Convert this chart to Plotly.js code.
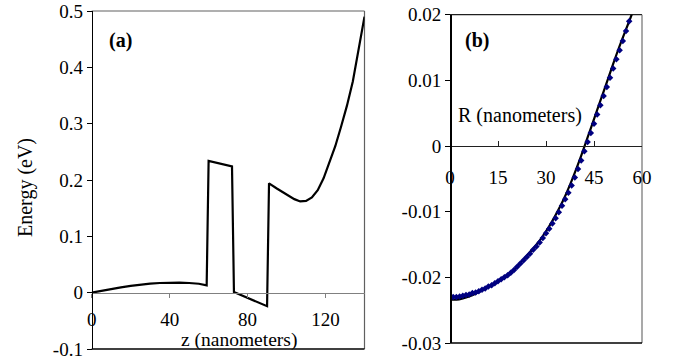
<!DOCTYPE html>
<html><head><meta charset="utf-8">
<script src="https://cdn.plot.ly/plotly-3.0.1.min.js"></script>
<style>html,body{margin:0;padding:0;background:#fff}#chart{width:675px;height:363px}</style>
</head><body><div id="chart"></div>
<script>
// Panel (a): potential energy profile along z
const zNm = [0, 5, 10, 15, 20, 25, 30, 35, 40, 45, 50, 55, 59, 60, 72, 73, 90, 91, 95, 100, 104, 107, 110, 113, 116, 119, 122, 125, 128, 131, 134, 137, 140];
const energyEv = [0, 0.0035, 0.0065, 0.0095, 0.012, 0.0145, 0.016, 0.0172, 0.018, 0.018, 0.0172, 0.0158, 0.013, 0.234, 0.224, 0.001, -0.024, 0.194, 0.185, 0.174, 0.166, 0.162, 0.163, 0.169, 0.182, 0.203, 0.230, 0.260, 0.295, 0.332, 0.375, 0.430, 0.490];

// Panel (b): solid curve and dotted (marker) curve vs R
const rSolidNm = [0, 2, 4, 6, 8, 10, 12, 14, 16, 18, 20, 22, 24, 26, 28, 30, 32, 34, 36, 38, 40, 42, 44, 46, 48, 50, 52, 54, 56, 58];
const rSolidEv = [-0.0234, -0.0234, -0.0232, -0.0229, -0.0225, -0.0220, -0.0215, -0.0209, -0.0203, -0.0196, -0.0188, -0.0178, -0.0167, -0.0156, -0.0144, -0.0130, -0.0114, -0.0096, -0.0076, -0.0053, -0.0028, -0.0001, 0.0027, 0.0055, 0.0083, 0.0111, 0.0139, 0.0165, 0.0190, 0.0216];
const rMarkNm = [0, 1, 2, 3, 4, 5, 6, 7, 8, 9, 10, 11, 12, 13, 14, 15, 16, 17, 18, 19, 20, 21, 22, 23, 24, 25, 26, 27, 28, 29, 30, 31, 32, 33, 34, 35, 36, 37, 38, 39, 40, 41, 42, 43, 44, 45, 46, 47, 48, 49, 50, 51, 52, 53, 54, 55, 56];
const rMarkEv = [-0.0230, -0.0230, -0.0230, -0.0229, -0.0228, -0.0227, -0.0226, -0.0224, -0.0223, -0.0221, -0.0219, -0.0217, -0.0214, -0.0212, -0.0209, -0.0206, -0.0203, -0.0200, -0.0197, -0.0193, -0.0189, -0.0184, -0.0179, -0.0174, -0.0169, -0.0164, -0.0158, -0.0153, -0.0147, -0.0140, -0.0133, -0.0126, -0.0118, -0.0110, -0.0101, -0.0091, -0.0081, -0.0071, -0.0060, -0.0048, -0.0035, -0.0022, -0.0008, 0.0006, 0.0020, 0.0034, 0.0048, 0.0062, 0.0076, 0.0090, 0.0104, 0.0118, 0.0132, 0.0146, 0.0160, 0.0175, 0.0190];

// Tick labels
const aXTickVals = [0, 40, 80, 120];
const aXTickText = ['0', '40', '80', '120'];
const aYTickVals = [-0.1, 0, 0.1, 0.2, 0.3, 0.4, 0.5];
const aYTickText = ['-0.1', '0', '0.1', '0.2', '0.3', '0.4', '0.5'];
const bXTickVals = [0, 15, 30, 45, 60];
const bXTickText = ['0', '15', '30', '45', '60'];
const bYTickVals = [-0.03, -0.02, -0.01, 0, 0.01, 0.02];
const bYTickText = ['-0.03', '-0.02', '-0.01', '0', '0.01', '0.02'];

const W = 675, H = 363;
const aXDom = [91.7 / W, 364.5 / W];
const aYDom = [(H - 349) / H, (H - 11) / H];
const bXDom = [450 / W, 642 / W];
const bYDom = [(H - 343) / H, (H - 14.7) / H];
const aYRange = [-0.1, 0.5];
const bYRange = [-0.03, 0.02];
function zeroPos(dom, rng) { return dom[0] + (0 - rng[0]) / (rng[1] - rng[0]) * (dom[1] - dom[0]); }

const FONT = 'Liberation Serif';
const FS = 19;

const traces = [
  { x: zNm, y: energyEv, type: 'scatter', mode: 'lines', xaxis: 'x', yaxis: 'y',
    line: { color: '#000', width: 2.2 }, hoverinfo: 'skip' },
  { x: rSolidNm, y: rSolidEv, type: 'scatter', mode: 'lines', xaxis: 'x2', yaxis: 'y2',
    line: { color: '#000', width: 2.2, shape: 'spline', smoothing: 0.6 }, hoverinfo: 'skip' },
  { x: rMarkNm, y: rMarkEv, type: 'scatter', mode: 'markers', xaxis: 'x2', yaxis: 'y2',
    marker: { symbol: 'diamond', size: 5, color: '#000080' }, hoverinfo: 'skip' }
];

const tickFont = { family: FONT, size: FS, color: '#000' };

const layout = {
  width: W, height: H,
  margin: { l: 0, r: 0, t: 0, b: 0 },
  paper_bgcolor: '#fff', plot_bgcolor: 'rgba(0,0,0,0)',
  showlegend: false,
  font: { family: FONT, size: FS, color: '#000' },
  xaxis: {
    domain: aXDom, range: [0, 140], anchor: 'free', position: zeroPos(aYDom, aYRange),
    showline: true, linecolor: '#808080', linewidth: 1.3,
    ticks: 'outside', ticklen: 4, tickcolor: '#808080', tickwidth: 1,
    tickvals: aXTickVals, ticktext: aXTickText, tickfont: tickFont,
    ticklabelstandoff: 5,
    showgrid: false, zeroline: false, fixedrange: true
  },
  yaxis: {
    domain: aYDom, range: aYRange, anchor: 'free', position: aXDom[0],
    showline: true, linecolor: '#000', linewidth: 1.5,
    ticks: 'outside', ticklen: 5, tickcolor: '#000', tickwidth: 1,
    tickvals: aYTickVals, ticktext: aYTickText, tickfont: tickFont,
    showgrid: false, zeroline: false, fixedrange: true
  },
  xaxis2: {
    domain: bXDom, range: [0, 60], anchor: 'free', position: zeroPos(bYDom, bYRange),
    showline: true, linecolor: '#202020', linewidth: 1.2,
    ticks: 'inside', ticklen: 5, tickcolor: '#202020', tickwidth: 1,
    tickvals: bXTickVals, ticktext: bXTickText, tickfont: tickFont,
    ticklabelstandoff: 14,
    showgrid: false, zeroline: false, fixedrange: true
  },
  yaxis2: {
    domain: bYDom, range: bYRange, anchor: 'free', position: bXDom[0],
    showline: true, linecolor: '#000', linewidth: 1.5,
    ticks: 'outside', ticklen: 5, tickcolor: '#000', tickwidth: 1,
    tickvals: bYTickVals, ticktext: bYTickText, tickfont: tickFont,
    showgrid: false, zeroline: false, fixedrange: true
  },
  shapes: [
    { type: 'line', xref: 'x domain', yref: 'y domain', x0: 0, x1: 1, y0: 1, y1: 1, line: { color: '#606060', width: 1.2 }, layer: 'below' },
    { type: 'line', xref: 'x domain', yref: 'y domain', x0: 1, x1: 1, y0: 0, y1: 1, line: { color: '#606060', width: 1.2 }, layer: 'below' },
    { type: 'line', xref: 'x domain', yref: 'y domain', x0: 0, x1: 1, y0: 0, y1: 0, line: { color: '#000', width: 1.5 }, layer: 'below' },
    { type: 'line', xref: 'x2 domain', yref: 'y2 domain', x0: 0, x1: 1, y0: 1, y1: 1, line: { color: '#202020', width: 1.3 }, layer: 'below' },
    { type: 'line', xref: 'x2 domain', yref: 'y2 domain', x0: 1, x1: 1, y0: 0, y1: 1, line: { color: '#707070', width: 1.2 }, layer: 'below' },
    { type: 'line', xref: 'x2 domain', yref: 'y2 domain', x0: 0, x1: 1, y0: 0, y1: 0, line: { color: '#000', width: 1.5 }, layer: 'below' }
  ],
  annotations: [
    { text: 'Energy (eV)', textangle: -90, xref: 'paper', yref: 'paper', x: 25 / W, y: (H - 188) / H,
      xanchor: 'center', yanchor: 'middle', showarrow: false, font: { family: FONT, size: 20, color: '#000' } },
    { text: 'z (nanometers)', xref: 'paper', yref: 'paper', x: 239 / W, y: (H - 339.5) / H,
      xanchor: 'center', yanchor: 'middle', showarrow: false, font: { family: FONT, size: 19.5, color: '#000' } },
    { text: 'R (nanometers)', xref: 'paper', yref: 'paper', x: 520 / W, y: (H - 115) / H,
      xanchor: 'center', yanchor: 'middle', showarrow: false, font: { family: FONT, size: 20, color: '#000' } },
    { text: '<b>(a)</b>', xref: 'paper', yref: 'paper', x: 120 / W, y: (H - 40) / H,
      xanchor: 'center', yanchor: 'middle', showarrow: false, font: { family: FONT, size: 20, color: '#000' } },
    { text: '<b>(b)</b>', xref: 'paper', yref: 'paper', x: 477 / W, y: (H - 40) / H,
      xanchor: 'center', yanchor: 'middle', showarrow: false, font: { family: FONT, size: 20, color: '#000' } }
  ]
};

Plotly.newPlot('chart', traces, layout, { staticPlot: true, displayModeBar: false });
</script>
</body></html>
